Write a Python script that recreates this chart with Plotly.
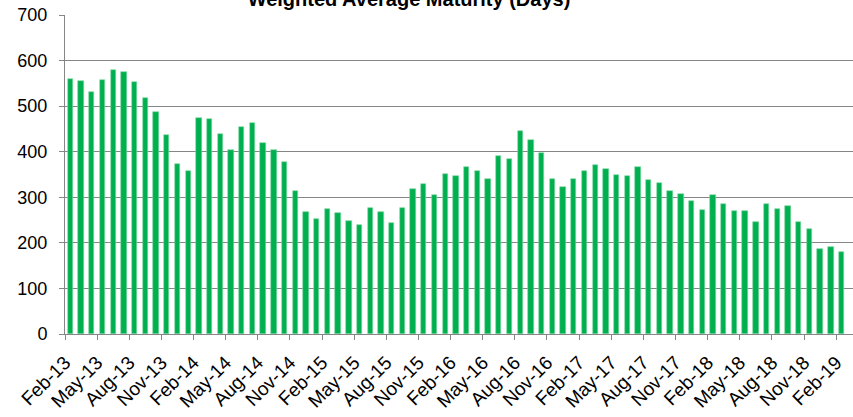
import plotly.graph_objects as go

months = ["Feb", "Mar", "Apr", "May", "Jun", "Jul", "Aug", "Sep", "Oct", "Nov", "Dec", "Jan"]
# monthly categories Feb-13 .. Feb-19
categories = []
for k in range(73):
    m = months[k % 12]
    yr = 13 + (k + 1) // 12
    categories.append(f"{m}-{yr:02d}")

wam_days = [
    559, 555, 530, 557, 579, 575, 554, 517, 487, 436, 374, 357,
    474, 471, 439, 404, 455, 463, 419, 404, 378, 314, 267, 253,
    274, 265, 248, 239, 276, 267, 243, 276, 318, 330, 304, 352,
    347, 367, 358, 340, 391, 384, 445, 425, 398, 340, 322, 340,
    357, 371, 362, 349, 347, 366, 338, 331, 314, 308, 291, 273,
    306, 285, 271, 271, 245, 285, 274, 281, 246, 230, 187, 190,
    179,
]

tick_every = 3
tick_labels = categories[::tick_every]

x_idx = list(range(len(categories)))
tick_pos = [i - 0.5 for i in x_idx[::tick_every]]

fig = go.Figure(go.Bar(
    x=x_idx,
    y=wam_days,
    width=0.5,
    marker=dict(color="#00B050", line=dict(color="#7FD8A3", width=0.6)),
    hovertext=categories,
))

font_family = "Arial, Liberation Sans, sans-serif"

fig.update_layout(
    width=853, height=417,
    margin=dict(l=65, r=0, t=15, b=83, autoexpand=False),
    paper_bgcolor="white", plot_bgcolor="white",
    showlegend=False,
    bargap=0,
    font=dict(family=font_family, size=18, color="black"),
    title=dict(
        text="<b>Weighted Average Maturity (Days)</b>",
        font=dict(family=font_family, size=20, color="black"),
        x=409 / 853, xanchor="center",
        yref="container", y=(417 - 6) / 417, yanchor="bottom",
    ),
)

fig.update_xaxes(
    range=[-0.5, 73.07],
    tickmode="array", tickvals=tick_pos, ticktext=tick_labels,
    tickangle=-45,
    ticks="outside", ticklen=5, tickcolor="#868686", tickwidth=1,
    showline=True, linecolor="#868686", linewidth=1,
    showgrid=False, zeroline=False,
    ticklabelstandoff=4,
    tickfont=dict(family=font_family, size=19, color="black"),
)
fig.update_yaxes(
    range=[0, 700], dtick=100,
    ticks="outside", ticklen=5, tickcolor="#868686", tickwidth=1,
    showline=True, linecolor="#868686", linewidth=1,
    showgrid=True, gridcolor="#868686", gridwidth=1,
    zeroline=False,
    ticklabelstandoff=8,
    tickfont=dict(family=font_family, size=18, color="black"),
)

fig.write_html(
    "out.html",
    config={"displayModeBar": False},
    post_script="document.body.style.margin='0';document.body.style.overflow='hidden';",
)
